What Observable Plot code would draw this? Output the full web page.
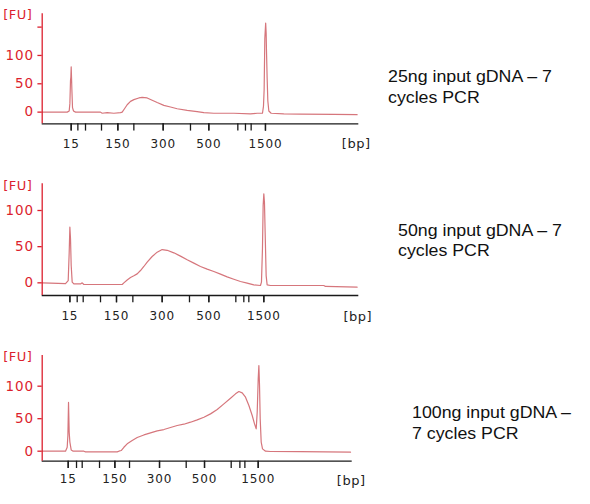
<!DOCTYPE html>
<html>
<head>
<meta charset="utf-8">
<script src="https://cdn.jsdelivr.net/npm/d3@7"></script>
<script src="https://cdn.jsdelivr.net/npm/@observablehq/plot@0.6"></script>
<style>
  html, body { margin: 0; padding: 0; background: #fff; }
  #wrap { position: relative; width: 590px; height: 504px; overflow: hidden; }
  .panel { position: absolute; left: 0; }
  .panel svg { display: block; overflow: visible; }
  .note { position: absolute; font-family: "Liberation Sans", Arial, sans-serif; font-size: 16px; color: #111;
          transform: scaleX(1.11); transform-origin: 0 0; white-space: nowrap; }
</style>
</head>
<body>
<div id="wrap"></div>
<script>
// ---- shared data ----
const ladderBp = [15, 25, 50, 100, 150, 200, 300, 400, 500, 700, 850, 1000, 1500];
const labeledBp = [15, 150, 300, 500, 1500];
const yTickValues = [0, 50, 100, 150];
const yLabeledValues = [0, 50, 100];
const captions = [
  ["25ng input gDNA \u2013 7", "cycles PCR"],
  ["50ng input gDNA \u2013 7", "cycles PCR"],
  ["100ng input gDNA \u2013", "7 cycles PCR"]
];

// migration time (s) of ladder peaks, per run
const ladder1T = [27.25, 28.92, 30.83, 34.83, 38.92, 42.92, 50.25, 57.08, 61.67, 68.92, 70.83, 72.25, 75.83];
const ladder2T = [26.92, 28.75, 30.25, 34.58, 38.58, 42.67, 50, 56.83, 61.67, 68.42, 70.42, 71.67, 75.42];
const ladder3T = [26.5, 28.58, 30, 34.33, 38.17, 41.83, 49.33, 56, 60.58, 67.25, 69.42, 70.67, 74];

// run 1: 25 ng
const trace1T = [20, 26.25, 26.75, 26.92, 27.08, 27.17, 27.25, 27.33, 27.42, 27.58, 27.83, 28.33, 34.58, 35, 36.25, 37.92, 39.58, 40, 40.58, 41.25, 42.08, 42.92, 44.17, 45, 46.25, 47.5, 48.75, 50.42, 52.08, 53.75, 56.25, 58.75, 60.42, 62.92, 67.92, 72.08, 73.75, 75.08, 75.33, 75.5, 75.67, 75.88, 76, 76.08, 76.25, 76.42, 76.67, 77.25, 80.42, 84.58, 92.92, 98.75];
const trace1FU = [0, 0, 2, 15, 56, 62, 80, 62, 40, 8, 2, 0, 0, -2, -1, -2, -1, 0, 6, 13, 19, 22, 25, 26, 25, 21, 17, 12, 9, 6, 3, 1, -1, -2, -2, -3, -2, -2, 10, 40, 130, 157, 140, 110, 60, 20, 2, -2, -3, -3.5, -4, -4.5];

// run 2: 50 ng
const trace2T = [20, 22.08, 25.83, 26.5, 26.75, 26.92, 27.08, 27.25, 27.5, 27.92, 29.58, 30, 30.42, 40, 40.42, 41.25, 42.08, 42.92, 43.75, 44.58, 45.42, 46.25, 47.5, 48.75, 50, 51.25, 52.92, 54.58, 56.25, 57.92, 59.58, 61.25, 62.92, 64.58, 66.25, 67.92, 69.58, 71.25, 72.92, 74.58, 74.83, 75.08, 75.25, 75.42, 75.58, 75.75, 76, 76.25, 77.08, 90.42, 90.83, 98.75];
const trace2FU = [0, -0.5, -1, 3, 42, 77, 61, 24, 1, -1.4, -1.5, 0, -2.3, -2.3, 0, 4, 7.4, 9.7, 12.4, 17, 22.6, 28.6, 36.4, 42.4, 46, 45, 41.5, 36.9, 31.8, 27.2, 22.6, 18.9, 15.7, 12, 8.3, 5, 1.8, -0.5, -2.8, -3.7, 1, 47, 107, 123, 111, 70, 10, -2.8, -3.7, -3.7, -5, -6];

// run 3: 100 ng
const trace3T = [20, 25.83, 26.25, 26.42, 26.58, 26.75, 26.92, 27.25, 27.75, 30.42, 30.83, 38.75, 39.17, 39.75, 40.42, 41.25, 42.5, 43.75, 45.42, 47.08, 48.75, 50.42, 52.08, 53.75, 55.42, 57.08, 58.75, 60.42, 62.08, 63.75, 65.42, 67.08, 68.33, 69.17, 70, 70.83, 71.67, 72.5, 73.08, 73.5, 73.75, 74, 74.17, 74.33, 74.5, 74.75, 75.08, 75.83, 77.08, 84.58, 97.08];
const trace3FU = [0, 0, 6, 24, 75, 29, 14, 2, 0, 0, -1, -1, 0, 1, 6, 11.3, 16.4, 21, 25, 28.2, 31.3, 33.3, 36.4, 39.5, 41.5, 44.6, 48.2, 52.3, 57.4, 64.1, 72.8, 81.5, 88.2, 91.8, 89.7, 83, 70.3, 54.9, 42, 34.4, 60, 111, 131.8, 101, 49.7, 13.8, 3.6, 0, -0.5, -0.8, -1.5];

// ---- styles ----
const RED = "#dc1f2e";
const TRACE = "#d6767c";
const AXIS = "#1a1a1a";

const panels = [
  { T: trace1T, FU: trace1FU, L: ladder1T, top: 0, height: 165, mt: 13.3, mb: 41.7, mr: 21.7,
    xd: [20, 99.17], yd: [-20.6, 173.5], pad: 8.6, fuDy: 1.5, bpDx: 11.7, bpDy: 20,
    note: { left: 387.7, top: 65.7, lh: 21 } },
  { T: trace2T, FU: trace2FU, L: ladder2T, top: 165, height: 170, mt: 18.3, mb: 40, mr: 21.7,
    xd: [20, 99.17], yd: [-17.5, 136.9], pad: 8.6, fuDy: 2.5, bpDx: 13.3, bpDy: 21.7,
    note: { left: 398.3, top: 221.1, lh: 20 } },
  { T: trace3T, FU: trace3FU, L: ladder3T, top: 335, height: 169, mt: 20, mb: 43.3, mr: 28.3,
    xd: [20, 97.5], yd: [-15.4, 147.2], pad: 6.2, fuDy: 1.7, bpDx: 13.3, bpDy: 19.3,
    note: { left: 411.7, top: 403.4, lh: 20.7 } }
];

const wrap = document.getElementById("wrap");
const yLabelStrings = yLabeledValues.map(String);
const xLabelStrings = labeledBp.map(String);

panels.forEach((p, k) => {
  const rows = p.T.map((t, i) => ({ t, fu: p.FU[i] }));
  const labeledT = p.L.filter((t, i) => labeledBp.includes(ladderBp[i]));
  const yTicks = yTickValues.filter(v => v <= p.yd[1]);
  const chart = Plot.plot({
    width: 380,
    height: p.height,
    marginLeft: 41.7,
    marginRight: p.mr,
    marginTop: p.mt,
    marginBottom: p.mb,
    style: { fontFamily: "DejaVu Sans, Verdana, sans-serif", background: "transparent", overflow: "visible" },
    x: { domain: p.xd },
    y: { domain: p.yd },
    marks: [
      Plot.line(rows, { x: "t", y: "fu", stroke: TRACE, strokeWidth: 1.2, curve: "linear" }),
      Plot.ruleY([p.yd[0]], { stroke: AXIS, strokeWidth: 1.3 }),
      Plot.ruleX([p.xd[0]], { stroke: RED, strokeWidth: 1.3 }),
      Plot.axisY(yTicks, {
        tickSize: 4.3, tickPadding: 4, stroke: RED, fill: RED, fontSize: 13.5,
        tickFormat: d => yLabeledValues.includes(d) ? String(d) : "",
        strokeWidth: 1.3, label: null
      }),
      Plot.axisX(p.L, {
        tickSize: 7.3, stroke: AXIS, strokeWidth: 1.3, tickFormat: () => "", label: null
      }),
      Plot.axisX(labeledT, {
        tickSize: 7.3, tickPadding: p.pad, stroke: AXIS, fill: "#222", fontSize: 12, strokeWidth: 1.3,
        tickFormat: d => String(ladderBp[p.L.indexOf(d)]), label: null
      }),
      Plot.text(["[FU]"], {
        text: d => d, frameAnchor: "top-left", dx: -39, dy: p.fuDy, textAnchor: "start",
        lineAnchor: "middle", fill: RED, fontSize: 13
      }),
      Plot.text(["[bp]"], {
        text: d => d, frameAnchor: "bottom-right", dx: p.bpDx, dy: p.bpDy, textAnchor: "end",
        lineAnchor: "middle", fill: "#222", fontSize: 13
      })
    ]
  });
  // enforce label typography inline
  chart.querySelectorAll("text").forEach(el => {
    const s = el.textContent;
    if (yLabelStrings.includes(s)) { el.style.fontSize = "13.5px"; el.style.letterSpacing = "0.9px"; }
    else if (xLabelStrings.includes(s)) { el.style.fontSize = "12px"; el.style.letterSpacing = "0.8px"; }
    else if (s === "[FU]" || s === "[bp]") { el.style.fontSize = "13px"; el.style.letterSpacing = "0.5px"; }
  });
  const div = document.createElement("div");
  div.className = "panel";
  div.style.top = p.top + "px";
  div.appendChild(chart);
  wrap.appendChild(div);

  const note = document.createElement("div");
  note.className = "note";
  note.style.left = p.note.left + "px";
  note.style.top = p.note.top + "px";
  note.style.lineHeight = p.note.lh + "px";
  note.innerHTML = captions[k].map(s => `<div>${s}</div>`).join("");
  wrap.appendChild(note);
});
</script>
</body>
</html>
